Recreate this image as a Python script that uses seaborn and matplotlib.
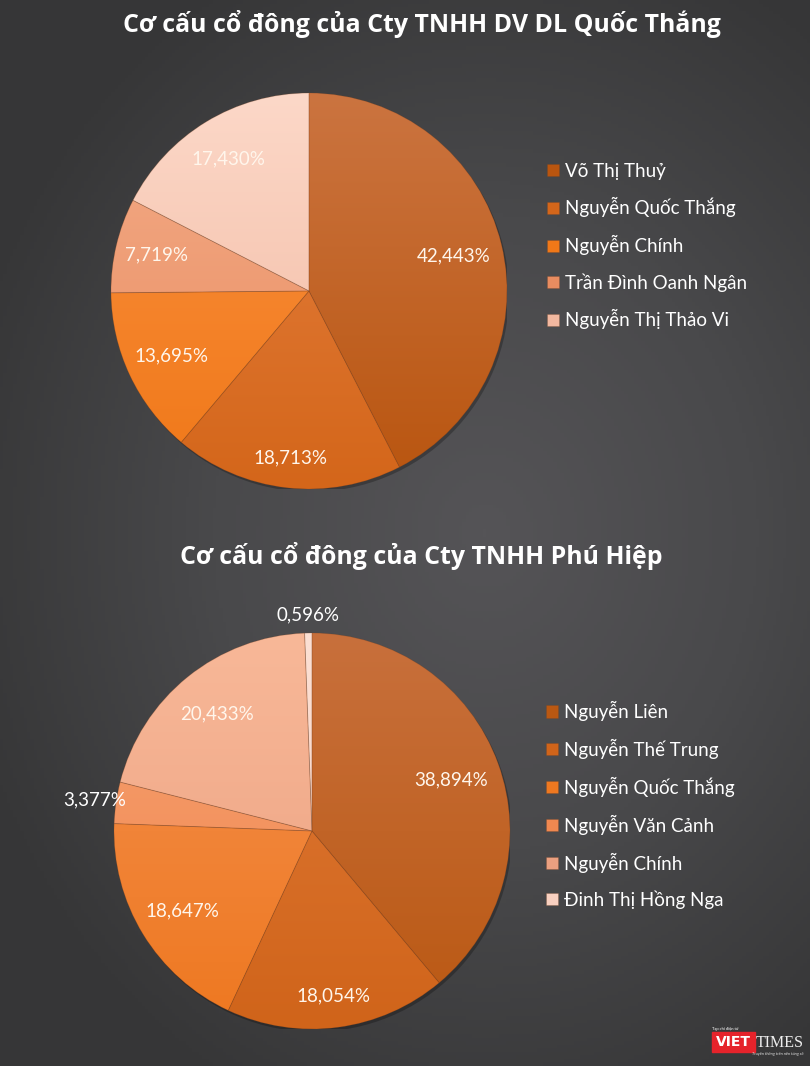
import numpy as np
import matplotlib
matplotlib.use('Agg')
import matplotlib.pyplot as plt
from matplotlib.colors import LinearSegmentedColormap
from matplotlib.patches import Rectangle, Circle
import seaborn as sns

sns.set_theme(style='dark')
plt.rcParams['font.family'] = ['Lato', 'DejaVu Sans']

# Dữ liệu
title_1 = 'Cơ cấu cổ đông của Cty TNHH DV DL Quốc Thắng'
names_1 = ['Võ Thị Thuỷ', 'Nguyễn Quốc Thắng', 'Nguyễn Chính',
           'Trần Đình Oanh Ngân', 'Nguyễn Thị Thảo Vi']
shares_1 = [42.443, 18.713, 13.695, 7.719, 17.430]

title_2 = 'Cơ cấu cổ đông của Cty TNHH Phú Hiệp'
names_2 = ['Nguyễn Liên', 'Nguyễn Thế Trung', 'Nguyễn Quốc Thắng',
           'Nguyễn Văn Cảnh', 'Nguyễn Chính', 'Đinh Thị Hồng Nga']
shares_2 = [38.894, 18.054, 18.647, 3.377, 20.433, 0.596]

# Màu (đỉnh, đáy) cho gradient mỗi lát
colors_1 = [('#CB7440', '#B9550F'), ('#E58040', '#D4661A'), ('#FA9040', '#F07818'),
            ('#F4AC88', '#E88C60'), ('#FCD8C8', '#F2B8A0')]
colors_2 = [('#C8703C', '#BA5812'), ('#E07A38', '#D0641A'), ('#F49050', '#EE7820'),
            ('#F6A070', '#F08850'), ('#F8B898', '#EBA080'), ('#FCE0D4', '#F8D0C0')]
# khoảng cách nhãn theo bán kính
dist_1 = [0.75, 0.85, 0.77, 0.79, 0.78]
dist_2 = [0.75, 0.84, 0.77, 1.11, 0.76, 1.09]

W, H = 810, 1066
fig = plt.figure(figsize=(W / 100, H / 100), dpi=100)

# Nền gradient tối
bg = fig.add_axes([0, 0, 1, 1], zorder=-5)
yy, xx = np.mgrid[0:1:300j, 0:1:240j]
r = np.sqrt(((xx - 0.6) / 0.9) ** 2 + ((yy - 0.5) / 0.8) ** 2)
bg_cmap = LinearSegmentedColormap.from_list('bg', ['#555457', '#49494b', '#363637'])
bg.imshow(r, cmap=bg_cmap, aspect='auto', extent=(0, 1, 0, 1), vmin=0, vmax=0.75)
bg.axis('off')


def fmt_pct(v):
    return f'{v:.3f}'.replace('.', ',') + '%'


def draw_pie(cx, cy, R, shares, names, colors, dists, leg_x, leg_y):
    ax = fig.add_axes([(cx - R) / W, 1 - (cy + R) / H, 2 * R / W, 2 * R / H])
    base = [c[1] for c in colors]
    wedges, _, autotexts = ax.pie(
        shares, colors=base, startangle=90, counterclock=False, radius=1,
        autopct='%.3f', pctdistance=0.78,
        wedgeprops=dict(edgecolor=(0.5, 0.25, 0.1, 0.25), linewidth=0.6),
        textprops=dict(color='#FFF6EC', fontsize=13.5))
    for t, v, d in zip(autotexts, shares, dists):
        x, y = t.get_position()
        t.set_position((x * d / 0.78, y * d / 0.78))
        t.set_text(fmt_pct(v))
        if d > 1:
            t.set_color('white')

    ax.legend(wedges, names, loc='center left', bbox_to_anchor=(leg_x / W, 1 - leg_y / H),
              bbox_transform=fig.transFigure, frameon=False, fontsize=13.5,
              labelcolor='white', handlelength=0.62, handleheight=0.62,
              handletextpad=0.3, labelspacing=0.95, borderpad=0)

    # bóng mờ
    ax.add_patch(Circle((0.01, -0.014), 1.0, color='black', alpha=0.25, zorder=0, lw=0))

    grad = np.linspace(0, 1, 256).reshape(-1, 1)
    for w, (top, bot) in zip(wedges, colors):
        cm = LinearSegmentedColormap.from_list('w', [bot, top])
        im = ax.imshow(grad, cmap=cm, extent=(-1, 1, -1, 1), origin='lower',
                       aspect='auto', zorder=1)
        im.set_clip_path(w)
        w.set_facecolor('none')
        w.set_zorder(2)
    for t in autotexts:
        t.set_zorder(5)
    ax.set_xlim(-1, 1)
    ax.set_ylim(-1, 1)
    ax.axis('off')
    return ax


draw_pie(309, 291, 198, shares_1, names_1, colors_1, dist_1, 538, 246)
draw_pie(312, 831, 198, shares_2, names_2, colors_2, dist_2, 537, 805)

fig.text(422 / W, 1 - 32 / H, title_1, ha='center', va='baseline', color='white',
         fontsize=17.9, fontweight='bold', family=['Open Sans', 'DejaVu Sans'])
fig.text(421 / W, 1 - 564 / H, title_2, ha='center', va='baseline', color='white',
         fontsize=17.9, fontweight='bold', family=['Open Sans', 'DejaVu Sans'])

# Logo VietTimes
fig.add_artist(Rectangle((712 / W, 1 - 1052 / H), 43 / W, 20 / H,
                         transform=fig.transFigure, color='#E5232B', zorder=3))
fig.text(733.5 / W, 1 - 1042 / H, 'VIET', ha='center', va='center', color='white',
         fontsize=10, fontweight='bold', family='DejaVu Sans', zorder=4)
fig.text(756 / W, 1 - 1043 / H, 'TIMES', ha='left', va='center', color='#EEEEEE',
         fontsize=11.5, family='Liberation Serif', zorder=4)
fig.text(725 / W, 1 - 1029 / H, 'Tạp chí điện tử', ha='center', va='center',
         color='white', fontsize=3, zorder=4)
fig.text(778 / W, 1 - 1054 / H, 'Truyền thông trên nền tảng số', ha='center',
         va='center', color='#DDDDDD', fontsize=3, style='italic', zorder=4)

plt.savefig('out.png', dpi=100, facecolor='#3e3e40')
